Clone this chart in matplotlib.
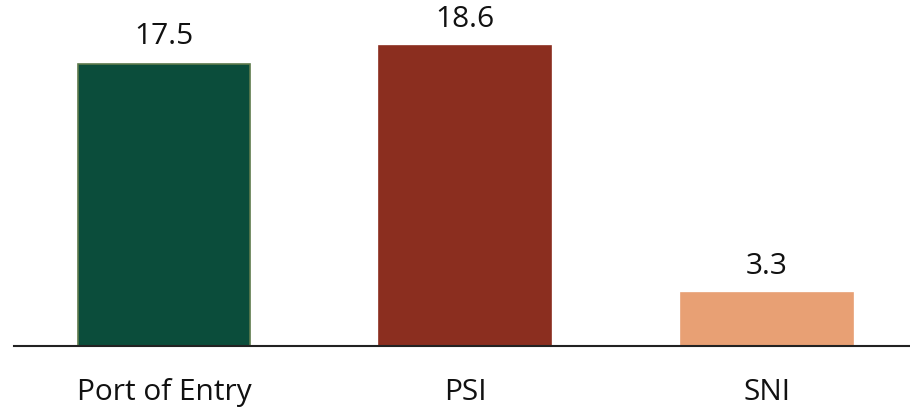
import matplotlib
matplotlib.use("Agg")
import matplotlib.pyplot as plt

categories = ["Port of Entry", "PSI", "SNI"]
values = [17.5, 18.6, 3.3]
value_labels = ["17.5", "18.6", "3.3"]

colors = ["#0b4d3b", "#8b2e1f", "#e8a074"]
edges = ["#5e7a4c", "#8b2e1f", "#e8a074"]

plt.rcParams['font.family'] = ['Open Sans', 'DejaVu Sans']

fig = plt.figure(figsize=(9.10, 4.14), dpi=100)
ax = fig.add_axes([14/910, 1 - 347/414, 896/910, 347/414])

x = list(range(len(categories)))
ax.bar(x, values, width=0.57, color=colors, edgecolor=edges, linewidth=1.2, zorder=2)
for xi, v, lab in zip(x, values, value_labels):
    ax.annotate(lab, (xi, v), xytext=(0, 14.5), textcoords="offset points",
                ha="center", va="baseline", fontsize=21.5, color="#111111")

ax.set_xlim(-0.4975, 2.475)
ax.set_ylim(0, 21.5)
ax.set_xticks(x)
ax.set_xticklabels(categories, fontsize=21.5, color="#111111")
ax.tick_params(axis="x", length=0, pad=22)
ax.set_yticks([])
for s in ["top", "right", "left"]:
    ax.spines[s].set_visible(False)
ax.spines["bottom"].set_color("#222222")
ax.spines["bottom"].set_linewidth(1.5)
ax.spines["bottom"].set_zorder(3)
ax.patch.set_alpha(0)

fig.savefig("out.png", dpi=100)
